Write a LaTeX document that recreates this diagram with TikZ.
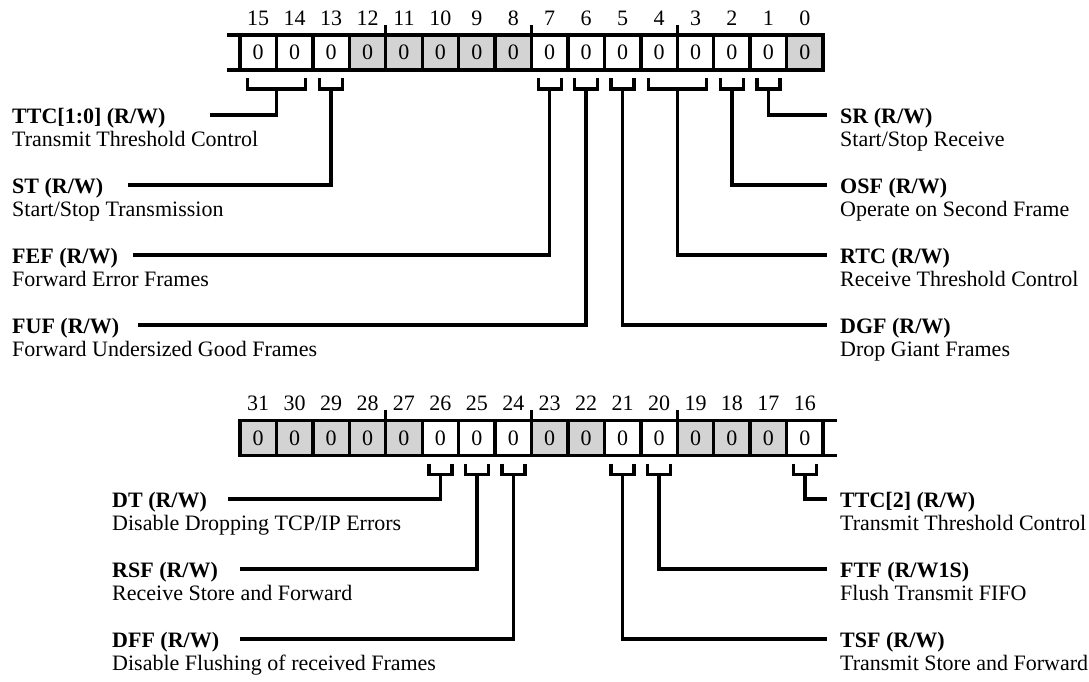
\documentclass[tikz,border=0pt]{standalone}
\usepackage{fontspec}
\setmainfont{Liberation Serif}
\definecolor{regGray}{RGB}{211,211,211}
\begin{document}
\begin{tikzpicture}[x=1pt,y=-1pt,
  every node/.style={font=\fontsize{22}{23}\selectfont},
  cell/.style={draw, line width=3.4pt, minimum width=36.44pt, minimum height=35pt, inner sep=0pt, outer sep=0pt, fill=white},
  graycell/.style={cell, fill=regGray},
  num/.style={anchor=base, inner sep=0pt},
  wire/.style={line width=3.4pt},
  fname/.style={anchor=base west, inner sep=0pt, font=\fontsize{22}{23}\selectfont\bfseries},
  fdesc/.style={anchor=base west, inner sep=0pt}
]
\useasboundingbox (0,0) rectangle (1089,681);
\def\cw{36.44}
% ---------- top register (bits 15..0)
\foreach \i in {0,...,15}{
  \pgfmathtruncatemacro{\bit}{15-\i}
  \pgfmathsetmacro{\cx}{240+\cw*(\i+0.5)}
  \ifnum\bit>7 \ifnum\bit<13 \def\st{graycell}\else\def\st{cell}\fi
  \else \ifnum\bit=0 \def\st{graycell}\else\def\st{cell}\fi\fi
  \node[\st] (t\bit) at (\cx,52.5) {0};
  \node[num] (tn\bit) at (\cx,25) {\bit};
}
\draw[wire] (227,35) -- (t15.north west);
\draw[wire] (227,70) -- (t15.south west);
\foreach \k in {4,8,12}{
  \draw[wire] ({240+\cw*\k},25) -- ({240+\cw*\k},35);
}
% ---------- bottom register (bits 31..16)
\foreach \i in {0,...,15}{
  \pgfmathtruncatemacro{\bit}{31-\i}
  \pgfmathsetmacro{\cx}{240+\cw*(\i+0.5)}
  \def\st{cell}
  \ifnum\bit>26 \def\st{graycell}\fi
  \ifnum\bit=23 \def\st{graycell}\fi
  \ifnum\bit=22 \def\st{graycell}\fi
  \ifnum\bit=19 \def\st{graycell}\fi
  \ifnum\bit=18 \def\st{graycell}\fi
  \ifnum\bit=17 \def\st{graycell}\fi
  \node[\st] (b\bit) at (\cx,438) {0};
  \node[num] (bn\bit) at (\cx,410.5) {\bit};
}
\draw[wire] (b16.north east) -- (837,420.5);
\draw[wire] (b16.south east) -- (837,455.5);
\foreach \k in {4,8,12}{
  \draw[wire] ({240+\cw*\k},410) -- ({240+\cw*\k},420.5);
}
% ---------- brackets: center, half width, name
% top register
\foreach \c/\h/\n in {276.44/29/TTC, 331.10/11.5/ST, 549.74/11.5/FEF, 586.18/11.5/FUF,
                      622.62/11.5/DGF, 677.28/29/RTC, 731.94/11.5/OSF, 768.38/11.5/SR}{
  \draw[wire] (\c-\h,78) -- (\c-\h,89) -- (\c+\h,89) -- (\c+\h,78);
  \coordinate (s\n) at (\c,89);
}
% bottom register
\foreach \c/\h/\n in {440.42/11.5/DT, 476.86/11.5/RSF, 513.30/11.5/DFF,
                      622.62/11.5/TSF, 659.06/11.5/FTF, 804.82/11.5/TTCb}{
  \draw[wire] (\c-\h,463.5) -- (\c-\h,474.5) -- (\c+\h,474.5) -- (\c+\h,463.5);
  \coordinate (s\n) at (\c,474.5);
}
% ---------- labels and their connector ends
% top left
\node[fname] (lTTC) at (12,123.5) {TTC[1:0] (R/W)};
\node[fdesc] (dTTC) at (12,146.5) {Transmit Threshold Control};
\coordinate (eTTC) at (210,115);
\node[fname] (lST) at (12,193.5) {ST (R/W)};
\node[fdesc] (dST) at (12,216.5) {Start/Stop Transmission};
\coordinate (eST) at (128,185);
\node[fname] (lFEF) at (12,263.5) {FEF (R/W)};
\node[fdesc] (dFEF) at (12,286.5) {Forward Error Frames};
\coordinate (eFEF) at (133,255);
\node[fname] (lFUF) at (12,333.5) {FUF (R/W)};
\node[fdesc] (dFUF) at (12,356.5) {Forward Undersized Good Frames};
\coordinate (eFUF) at (138,325);
% top right
\node[fname] (lSR) at (840,123.5) {SR (R/W)};
\node[fdesc] (dSR) at (840,146.5) {Start/Stop Receive};
\coordinate (eSR) at (827,115);
\node[fname] (lOSF) at (840,193.5) {OSF (R/W)};
\node[fdesc] (dOSF) at (840,216.5) {Operate on Second Frame};
\coordinate (eOSF) at (827,185);
\node[fname] (lRTC) at (840,263.5) {RTC (R/W)};
\node[fdesc] (dRTC) at (840,286.5) {Receive Threshold Control};
\coordinate (eRTC) at (827,255);
\node[fname] (lDGF) at (840,333.5) {DGF (R/W)};
\node[fdesc] (dDGF) at (840,356.5) {Drop Giant Frames};
\coordinate (eDGF) at (827,325);
% bottom left
\node[fname] (lDT) at (112,507.5) {DT (R/W)};
\node[fdesc] (dDT) at (112,530.5) {Disable Dropping TCP/IP Errors};
\coordinate (eDT) at (228,499);
\node[fname] (lRSF) at (112,577.5) {RSF (R/W)};
\node[fdesc] (dRSF) at (112,600.5) {Receive Store and Forward};
\coordinate (eRSF) at (240,569);
\node[fname] (lDFF) at (112,647.5) {DFF (R/W)};
\node[fdesc] (dDFF) at (112,670.5) {Disable Flushing of received Frames};
\coordinate (eDFF) at (240,639);
% bottom right
\node[fname] (lTTCb) at (840,507.5) {TTC[2] (R/W)};
\node[fdesc] (dTTCb) at (840,530.5) {Transmit Threshold Control};
\coordinate (eTTCb) at (827,499);
\node[fname] (lFTF) at (840,577.5) {FTF (R/W1S)};
\node[fdesc] (dFTF) at (840,600.5) {Flush Transmit FIFO};
\coordinate (eFTF) at (827,569);
\node[fname] (lTSF) at (840,647.5) {TSF (R/W)};
\node[fdesc] (dTSF) at (840,670.5) {Transmit Store and Forward};
\coordinate (eTSF) at (827,639);
% ---------- connectors
\foreach \n in {TTC,ST,FEF,FUF,SR,OSF,RTC,DGF,DT,RSF,DFF,TTCb,FTF,TSF}{
  \draw[wire] (s\n) |- (e\n);
}
\end{tikzpicture}
\end{document}
